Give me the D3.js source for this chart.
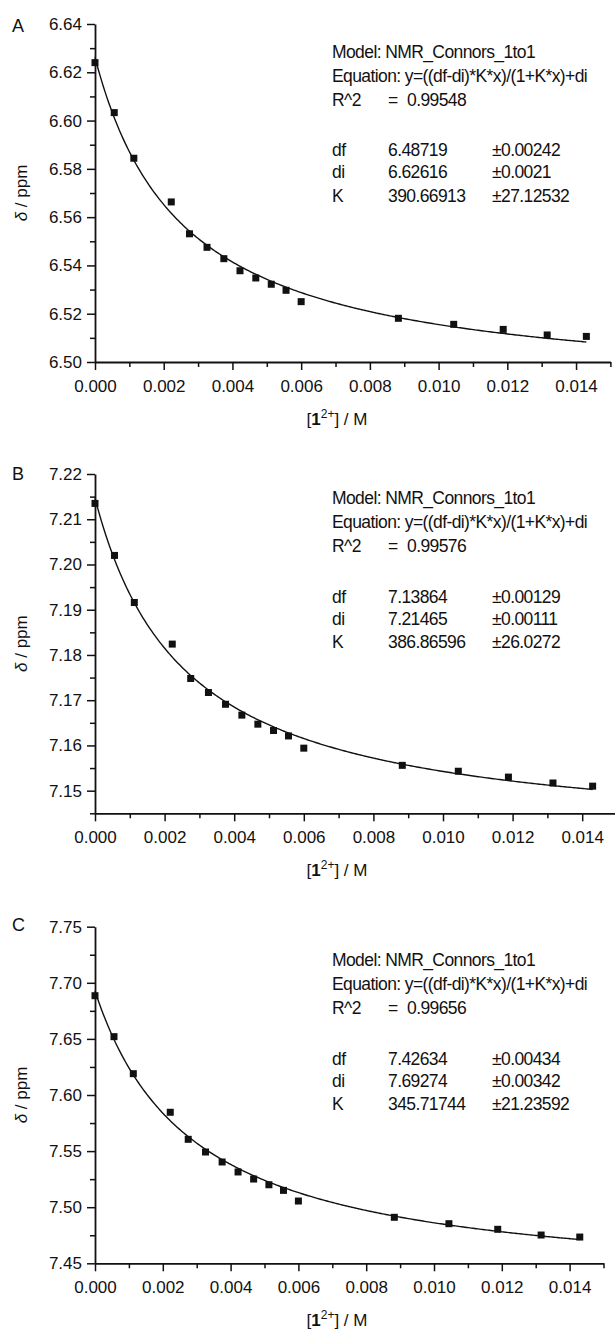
<!DOCTYPE html>
<html>
<head>
<meta charset="utf-8">
<script src="https://cdn.jsdelivr.net/npm/d3@7"></script>
<style>
    body { margin: 0; background: #fff; }
    svg text { font-family: "Liberation Sans", Arial, sans-serif; fill: #111; }
</style>
</head>
<body>
<div id="chart"></div>
<script>
// Concentration of 1^2+ (M), same titration points in all three panels
var conc = [0, 0.00056, 0.00113, 0.00222, 0.00275, 0.00326, 0.00375, 0.00422, 0.00468,
    0.00513, 0.00556, 0.0060, 0.00883, 0.01044, 0.01188, 0.01316, 0.0143];

// Observed chemical shifts (ppm)
var shiftA = [6.6240, 6.6033, 6.5844, 6.5663, 6.5531, 6.5475, 6.5428, 6.5378, 6.5348,
    6.5322, 6.5297, 6.5250, 6.5181, 6.5156, 6.5135, 6.5112, 6.5106];
var shiftB = [7.2135, 7.2020, 7.1916, 7.1824, 7.1748, 7.1717, 7.1691, 7.1667, 7.1647,
    7.1633, 7.1621, 7.1594, 7.1556, 7.1543, 7.1530, 7.1517, 7.1510];
var shiftC = [7.6885, 7.6520, 7.6190, 7.5846, 7.5605, 7.5492, 7.5403, 7.5314, 7.5251,
    7.5200, 7.5150, 7.5055, 7.4910, 7.4853, 7.4803, 7.4752, 7.4734];

// Fit results: df, di, K and their errors
var fitA = [6.48719, 6.62616, 390.66913];
var errA = ["±0.00242", "±0.0021", "±27.12532"];
var fitB = [7.13864, 7.21465, 386.86596];
var errB = ["±0.00129", "±0.00111", "±26.0272"];
var fitC = [7.42634, 7.69274, 345.71744];
var errC = ["±0.00434", "±0.00342", "±21.23592"];
var r2Values = ["0.99548", "0.99576", "0.99656"];
var fitNames = ["df", "di", "K"];
var fitLabels = [["6.48719", "6.62616", "390.66913"],
    ["7.13864", "7.21465", "386.86596"],
    ["7.42634", "7.69274", "345.71744"]];

// Tick values
var xTicks = [0, 0.002, 0.004, 0.006, 0.008, 0.010, 0.012, 0.014];
var xMinor = [0.001, 0.003, 0.005, 0.007, 0.009, 0.011, 0.013, 0.015];
var yTicksA = [6.50, 6.52, 6.54, 6.56, 6.58, 6.60, 6.62, 6.64];
var yMinorA = [6.51, 6.53, 6.55, 6.57, 6.59, 6.61, 6.63];
var yTicksB = [7.15, 7.16, 7.17, 7.18, 7.19, 7.20, 7.21, 7.22];
var yMinorB = [7.145, 7.155, 7.165, 7.175, 7.185, 7.195, 7.205, 7.215];
var yTicksC = [7.45, 7.50, 7.55, 7.60, 7.65, 7.70, 7.75];
var yMinorC = [7.475, 7.525, 7.575, 7.625, 7.675, 7.725];

// Panel layout
var panels = [
    { letter: "A", y: shiftA, fit: fitA, err: errA, yDomain: [6.50, 6.64], yTicks: yTicksA, yMinor: yMinorA,
      top: 24, bottom: 362, right: 610.4, letterY: 32, boxY: 57.5 },
    { letter: "B", y: shiftB, fit: fitB, err: errB, yDomain: [7.145, 7.22], yTicks: yTicksB, yMinor: yMinorB,
      top: 474, bottom: 813.3, right: 617, letterY: 480, boxY: 504.3 },
    { letter: "C", y: shiftC, fit: fitC, err: errC, yDomain: [7.45, 7.75], yTicks: yTicksC, yMinor: yMinorC,
      top: 926.7, bottom: 1263.3, right: 603.5, letterY: 931, boxY: 966 }
];

var left = 95;

var svg = d3.select("#chart")
    .append("svg")
    .attr("width", 615)
    .attr("height", 1330);

panels.forEach(function (p, i) {
    var g = svg.append("g");

    var x = d3.scaleLinear().domain([0, 0.015]).range([left, p.right]);
    var y = d3.scaleLinear().domain(p.yDomain).range([p.bottom, p.top]);

    // Fitted curve y = (df-di)*K*x/(1+K*x) + di
    var df = p.fit[0], di = p.fit[1], K = p.fit[2];
    var xMax = d3.max(conc);
    var curve = d3.range(0, 301).map(function (k) {
        var cx = xMax * k / 300;
        return [cx, (df - di) * K * cx / (1 + K * cx) + di];
    });
    g.append("path")
        .datum(curve)
        .attr("fill", "none")
        .attr("stroke", "#111")
        .attr("stroke-width", 1.4)
        .attr("d", d3.line()
            .x(function (d) { return x(d[0]); })
            .y(function (d) { return y(d[1]); }));

    // Data points
    g.selectAll(".pt")
        .data(conc.map(function (c, j) { return [c, p.y[j]]; }))
        .enter()
        .append("rect")
        .attr("class", "pt")
        .attr("x", function (d) { return x(d[0]) - 3.5; })
        .attr("y", function (d) { return y(d[1]) - 3.5; })
        .attr("width", 7)
        .attr("height", 7)
        .attr("fill", "#111");

    // Minor ticks
    var xm = g.append("g")
        .attr("transform", "translate(0," + p.bottom + ")")
        .call(d3.axisBottom(x).tickValues(xMinor).tickSize(5).tickFormat(""));
    xm.select(".domain").remove();
    var ym = g.append("g")
        .attr("transform", "translate(" + left + ",0)")
        .call(d3.axisLeft(y).tickValues(p.yMinor).tickSize(5).tickFormat(""));
    ym.select(".domain").remove();

    // Major axes
    var xa = g.append("g")
        .attr("transform", "translate(0," + p.bottom + ")")
        .call(d3.axisBottom(x).tickValues(xTicks).tickSize(8).tickSizeOuter(0)
            .tickPadding(10).tickFormat(d3.format(".3f")));
    var ya = g.append("g")
        .attr("transform", "translate(" + left + ",0)")
        .call(d3.axisLeft(y).tickValues(p.yTicks).tickSize(8).tickSizeOuter(0)
            .tickPadding(5).tickFormat(d3.format(".2f")));

    [xa, ya, xm, ym].forEach(function (a) {
        a.selectAll("line").attr("stroke", "#111").attr("stroke-width", 1.5);
        a.selectAll("text").style("font-size", "17px").attr("fill", "#111");
    });
    [xa, ya].forEach(function (a) {
        a.select(".domain").attr("stroke", "#111").attr("stroke-width", 1.8);
    });

    // Panel letter
    g.append("text")
        .attr("x", 12)
        .attr("y", p.letterY)
        .style("font-size", "18px")
        .text(p.letter);

    // Y axis title
    var yt = g.append("text")
        .attr("transform", "translate(21," + ((p.top + p.bottom) / 2) + ") rotate(-90)")
        .attr("text-anchor", "middle")
        .attr("dy", "0.35em")
        .style("font-size", "17px");
    yt.append("tspan").style("font-style", "italic").text("δ");
    yt.append("tspan").text(" / ppm");

    // X axis title
    var xt = g.append("text")
        .attr("x", 337)
        .attr("y", p.bottom + 63)
        .attr("text-anchor", "middle")
        .style("font-size", "17px");
    xt.append("tspan").text("[");
    xt.append("tspan").style("font-weight", "bold").text("1");
    xt.append("tspan").attr("dy", -7).style("font-size", "12px").text("2+");
    xt.append("tspan").attr("dy", 7).text("] / M");

    // Fit report box
    var box = g.append("g")
        .attr("transform", "translate(332," + p.boxY + ")")
        .style("font-size", "17.5px")
        .style("letter-spacing", "-0.6px");
    box.append("text").attr("y", 0).text("Model: NMR_Connors_1to1");
    box.append("text").attr("y", 24).text("Equation: y=((df-di)*K*x)/(1+K*x)+di");
    box.append("text").attr("y", 48).text("R^2");
    box.append("text").attr("x", 56).attr("y", 48).text("=");
    box.append("text").attr("x", 75).attr("y", 48).text(r2Values[i]);
    var offs = [98.5, 120.5, 144];
    fitNames.forEach(function (n, j) {
        box.append("text").attr("y", offs[j]).text(n);
        box.append("text").attr("x", 56).attr("y", offs[j]).text(fitLabels[i][j]);
        box.append("text").attr("x", 160).attr("y", offs[j]).text(p.err[j]);
    });
});
</script>
</body>
</html>
